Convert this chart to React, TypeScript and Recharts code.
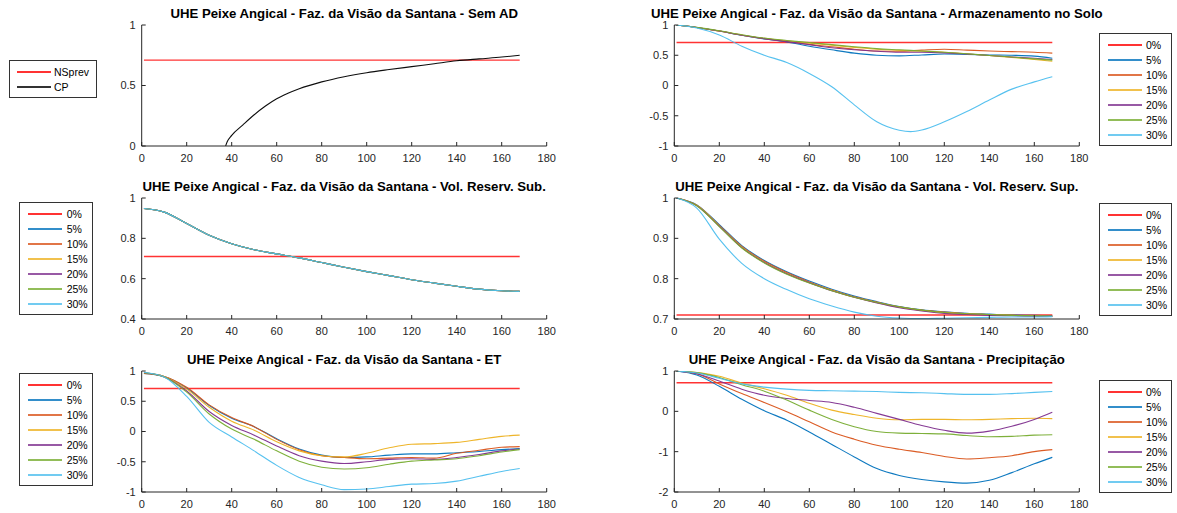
import React from "react";
import { LineChart, Line, XAxis, YAxis, Legend } from "recharts";

// sample hours shared by the scenario curves
const hours = [1, 10, 20, 30, 40, 50, 60, 70, 80, 90, 100, 110, 120, 130, 140, 150, 160, 168];
const xTicks = [0, 20, 40, 60, 80, 100, 120, 140, 160, 180];
const scenarioNames = ["0%", "5%", "10%", "15%", "20%", "25%", "30%"];

// NSprev reference level
const nsprevHours = [1, 168];
const nsprevLevel = [0.71, 0.71];

// Sem AD
const cpHours = [37.3, 38, 40, 45, 50, 55, 60, 65, 70, 80, 90, 100, 110, 120, 130, 140, 150, 160, 168];
const cpValues = [0, 0.035, 0.088, 0.175, 0.258, 0.33, 0.39, 0.435, 0.473, 0.53, 0.573, 0.606, 0.632, 0.656, 0.68, 0.704, 0.72, 0.735, 0.75];

// Armazenamento no Solo
const soil5 = [1, 0.96, 0.9, 0.83, 0.77, 0.72, 0.65, 0.59, 0.535, 0.5, 0.49, 0.505, 0.52, 0.515, 0.505, 0.5, 0.485, 0.45];
const soil10 = [1, 0.96, 0.9, 0.83, 0.775, 0.73, 0.68, 0.64, 0.6, 0.57, 0.565, 0.585, 0.6, 0.585, 0.57, 0.56, 0.55, 0.535];
const soil15 = [1, 0.96, 0.9, 0.835, 0.78, 0.74, 0.7, 0.665, 0.63, 0.6, 0.58, 0.565, 0.55, 0.525, 0.495, 0.465, 0.43, 0.4];
const soil20 = [1, 0.96, 0.9, 0.83, 0.775, 0.725, 0.675, 0.625, 0.59, 0.565, 0.55, 0.55, 0.54, 0.52, 0.495, 0.47, 0.45, 0.43];
const soil25 = [1, 0.96, 0.905, 0.84, 0.785, 0.745, 0.71, 0.675, 0.64, 0.61, 0.59, 0.57, 0.55, 0.525, 0.495, 0.47, 0.44, 0.42];
const soil30Hours = [1, 10, 20, 30, 40, 50, 60, 70, 80, 90, 100, 105, 110, 120, 130, 140, 150, 160, 168];
const soil30 = [1, 0.95, 0.835, 0.65, 0.5, 0.38, 0.2, -0.02, -0.32, -0.6, -0.74, -0.762, -0.735, -0.6, -0.43, -0.24, -0.06, 0.06, 0.146];

// Vol. Reserv. Sub. (all scenarios overlap)
const subVol = [0.948, 0.93, 0.873, 0.815, 0.773, 0.743, 0.723, 0.703, 0.68, 0.657, 0.635, 0.615, 0.595, 0.578, 0.562, 0.548, 0.54, 0.537];

// Vol. Reserv. Sup.
const sup5 = [1, 0.983, 0.934, 0.882, 0.845, 0.817, 0.794, 0.774, 0.757, 0.743, 0.731, 0.723, 0.718, 0.714, 0.712, 0.71, 0.709, 0.708];
const sup10 = [1, 0.982, 0.932, 0.88, 0.843, 0.815, 0.792, 0.772, 0.755, 0.742, 0.73, 0.722, 0.717, 0.713, 0.711, 0.709, 0.708, 0.707];
const sup15 = [1, 0.982, 0.931, 0.878, 0.841, 0.813, 0.79, 0.771, 0.754, 0.741, 0.729, 0.721, 0.716, 0.713, 0.711, 0.709, 0.708, 0.707];
const sup20 = [1, 0.981, 0.93, 0.877, 0.84, 0.812, 0.79, 0.77, 0.754, 0.74, 0.728, 0.72, 0.714, 0.711, 0.709, 0.708, 0.707, 0.707];
const sup25 = [1, 0.981, 0.929, 0.876, 0.839, 0.811, 0.789, 0.77, 0.754, 0.741, 0.73, 0.722, 0.716, 0.713, 0.711, 0.709, 0.708, 0.707];
const sup30 = [1, 0.975, 0.898, 0.838, 0.8, 0.773, 0.75, 0.732, 0.717, 0.707, 0.7025, 0.701, 0.702, 0.703, 0.704, 0.705, 0.705, 0.706];

// ET
const et5 = [0.96, 0.91, 0.72, 0.43, 0.22, 0.08, -0.12, -0.29, -0.39, -0.43, -0.42, -0.39, -0.37, -0.37, -0.35, -0.33, -0.3, -0.28];
const et10 = [0.96, 0.91, 0.73, 0.44, 0.23, 0.08, -0.13, -0.3, -0.4, -0.43, -0.45, -0.44, -0.43, -0.44, -0.36, -0.31, -0.26, -0.25];
const et15 = [0.97, 0.91, 0.7, 0.4, 0.17, 0.02, -0.17, -0.32, -0.4, -0.42, -0.36, -0.27, -0.21, -0.2, -0.18, -0.13, -0.08, -0.06];
const et20 = [0.97, 0.9, 0.67, 0.33, 0.1, -0.06, -0.24, -0.4, -0.49, -0.53, -0.5, -0.46, -0.45, -0.46, -0.43, -0.38, -0.32, -0.29];
const et25 = [0.97, 0.9, 0.65, 0.29, 0.04, -0.13, -0.32, -0.49, -0.59, -0.62, -0.6, -0.54, -0.49, -0.47, -0.45, -0.4, -0.34, -0.3];
const et30 = [0.98, 0.9, 0.58, 0.15, -0.09, -0.32, -0.56, -0.76, -0.88, -0.96, -0.95, -0.91, -0.87, -0.86, -0.82, -0.74, -0.66, -0.61];

// Precipitação
const pr5 = [1, 0.9, 0.62, 0.3, 0.015, -0.22, -0.51, -0.82, -1.13, -1.42, -1.59, -1.69, -1.75, -1.78, -1.71, -1.52, -1.3, -1.14];
const pr10 = [1, 0.93, 0.68, 0.44, 0.22, -0.01, -0.26, -0.51, -0.69, -0.84, -0.94, -1.02, -1.12, -1.18, -1.15, -1.1, -1.0, -0.95];
const pr15 = [1, 0.96, 0.87, 0.7, 0.56, 0.4, 0.2, 0.03, -0.08, -0.17, -0.21, -0.2, -0.2, -0.21, -0.2, -0.18, -0.17, -0.18];
const pr20 = [1, 0.93, 0.75, 0.55, 0.4, 0.32, 0.27, 0.22, 0.1, -0.05, -0.2, -0.35, -0.47, -0.54, -0.49, -0.37, -0.2, -0.02];
const pr25 = [1, 0.96, 0.84, 0.66, 0.5, 0.28, 0.03, -0.2, -0.38, -0.5, -0.54, -0.55, -0.56, -0.6, -0.63, -0.62, -0.59, -0.58];
const pr30 = [1, 0.95, 0.82, 0.68, 0.6, 0.55, 0.52, 0.51, 0.5, 0.49, 0.47, 0.46, 0.44, 0.42, 0.42, 0.44, 0.47, 0.49];

const matlabColors = ["#ff0000", "#0072bd", "#d95319", "#edb120", "#7e2f8e", "#77ac30", "#4dbeee"];
const FONT = "'Liberation Sans', Arial, Helvetica, sans-serif";
const AXIS = "#262626";

type Series = { name: string; xs: number[]; ys: number[]; color: string };

const toPoints = (xs: number[], ys: number[]) => xs.map((h, i) => ({ h, v: ys[i] }));

const scenarios = (sets: number[][], lastHours = hours): Series[] => [
  { name: scenarioNames[0], xs: nsprevHours, ys: nsprevLevel, color: matlabColors[0] },
  ...sets.map((ys, i) => ({
    name: scenarioNames[i + 1],
    xs: i === sets.length - 1 ? lastHours : hours,
    ys,
    color: matlabColors[i + 1],
  })),
];

const panels = [
  {
    title: "UHE Peixe Angical - Faz. da Visão da Santana - Sem AD",
    col: 0, row: 0, yDomain: [0, 1], yTicks: [0, 0.5, 1],
    series: [
      { name: "NSprev", xs: nsprevHours, ys: nsprevLevel, color: "#ff0000" },
      { name: "CP", xs: cpHours, ys: cpValues, color: "#000000" },
    ],
    legend: { left: 9, top: 60, width: 88, pad: 7, gap: 3 },
  },
  {
    title: "UHE Peixe Angical - Faz. da Visão da Santana - Armazenamento no Solo",
    col: 1, row: 0, yDomain: [-1, 1], yTicks: [-1, -0.5, 0, 0.5, 1],
    series: scenarios([soil5, soil10, soil15, soil20, soil25, soil30], soil30Hours),
    legend: { left: 539, top: 33, width: 73, pad: 8, gap: 4 },
  },
  {
    title: "UHE Peixe Angical - Faz. da Visão da Santana - Vol. Reserv. Sub.",
    col: 0, row: 1, yDomain: [0.4, 1], yTicks: [0.4, 0.6, 0.8, 1],
    series: scenarios([subVol, subVol, subVol, subVol, subVol, subVol]),
    legend: { left: 18.7, top: 29, width: 74, pad: 8, gap: 5 },
  },
  {
    title: "UHE Peixe Angical - Faz. da Visão da Santana - Vol. Reserv. Sup.",
    col: 1, row: 1, yDomain: [0.7, 1], yTicks: [0.7, 0.8, 0.9, 1],
    series: scenarios([sup5, sup10, sup15, sup20, sup25, sup30]),
    legend: { left: 539, top: 30, width: 73, pad: 8, gap: 4 },
  },
  {
    title: "UHE Peixe Angical - Faz. da Visão da Santana - ET",
    col: 0, row: 2, yDomain: [-1, 1], yTicks: [-1, -0.5, 0, 0.5, 1],
    series: scenarios([et5, et10, et15, et20, et25, et30]),
    legend: { left: 18.7, top: 27, width: 74, pad: 8, gap: 5 },
  },
  {
    title: "UHE Peixe Angical - Faz. da Visão da Santana - Precipitação",
    col: 1, row: 2, yDomain: [-2, 1], yTicks: [-2, -1, 0, 1],
    series: scenarios([pr5, pr10, pr15, pr20, pr25, pr30]),
    legend: { left: 539, top: 34, width: 73, pad: 8, gap: 4 },
  },
];

const columns = [
  { chartLeft: 0, width: 560, plotLeft: 141.7 },
  { chartLeft: 560, width: 617, plotLeft: 674.3 },
];
const rowTops = [0, 173, 346];
const PLOT_W = 405;
const PLOT_TOP = 25;
const PLOT_H = 121;
const CHART_H = 170;
const YAXIS_W = 40;
const XAXIS_H = 20;

const LegendBox = ({ series, box }: { series: Series[]; box: any }) => (
  <div
    style={{
      width: box.width,
      boxSizing: "border-box",
      border: "1px solid #333",
      background: "#fff",
      padding: "3px 0",
      fontFamily: FONT,
    }}
  >
    {series.map((s) => (
      <div key={s.name} style={{ display: "flex", alignItems: "center", height: 15 }}>
        <div style={{ marginLeft: box.pad, width: 34, height: 2, background: s.color, opacity: 0.8, flex: "none" }} />
        <span style={{ marginLeft: box.gap, fontSize: 10.5, color: "#000", lineHeight: "12px" }}>{s.name}</span>
      </div>
    ))}
  </div>
);

const Panel = ({ p }: { p: (typeof panels)[number] }) => {
  const c = columns[p.col];
  const top = rowTops[p.row];
  const marginLeft = c.plotLeft - c.chartLeft - YAXIS_W;
  const marginRight = c.width - marginLeft - YAXIS_W - PLOT_W;
  return (
    <div style={{ position: "absolute", left: c.chartLeft, top, width: c.width, height: CHART_H }}>
      <div
        style={{
          position: "absolute",
          left: c.plotLeft - c.chartLeft - 60,
          width: PLOT_W + 120,
          top: PLOT_TOP - 17.5,
          textAlign: "center",
          fontWeight: "bold",
          fontSize: 13.2,
          lineHeight: "12px",
          color: "#000",
          whiteSpace: "nowrap",
        }}
      >
        {p.title}
      </div>
      <LineChart
        width={c.width}
        height={CHART_H}
        margin={{ top: PLOT_TOP, right: marginRight, left: marginLeft, bottom: CHART_H - PLOT_TOP - PLOT_H - XAXIS_H }}
      >
        <XAxis
          type="number"
          dataKey="h"
          domain={[0, 180]}
          ticks={xTicks}
          interval={0}
          allowDataOverflow
          height={XAXIS_H}
          stroke={AXIS}
          tickSize={-4}
          tickMargin={12}
          tick={{ fontSize: 11, fill: AXIS }}
        />
        <YAxis
          type="number"
          domain={p.yDomain}
          ticks={p.yTicks}
          interval={0}
          allowDataOverflow
          width={YAXIS_W}
          stroke={AXIS}
          tickSize={-4}
          tickMargin={10}
          tick={{ fontSize: 11, fill: AXIS }}
        />
        {p.series.map((s) => (
          <Line
            key={s.name}
            name={s.name}
            data={toPoints(s.xs, s.ys)}
            dataKey="v"
            type="monotone"
            stroke={s.color}
            strokeWidth={s.color === "#ff0000" ? 1.4 : 1.1}
            strokeOpacity={s.color === "#ff0000" ? 0.8 : 0.95}
            dot={false}
            activeDot={false}
            isAnimationActive={false}
          />
        ))}
        <Legend
          layout="vertical"
          align="center"
          verticalAlign="middle"
          wrapperStyle={{ left: p.legend.left, top: p.legend.top, width: "auto", height: "auto" }}
          content={() => <LegendBox series={p.series} box={p.legend} />}
        />
      </LineChart>
    </div>
  );
};

export default function App() {
  return (
    <div
      style={{
        position: "absolute",
        left: 0,
        top: 0,
        width: 1177,
        height: 513,
        background: "#fff",
        fontFamily: FONT,
        overflow: "hidden",
      }}
    >
      {panels.map((p) => (
        <Panel key={p.title} p={p} />
      ))}
    </div>
  );
}
